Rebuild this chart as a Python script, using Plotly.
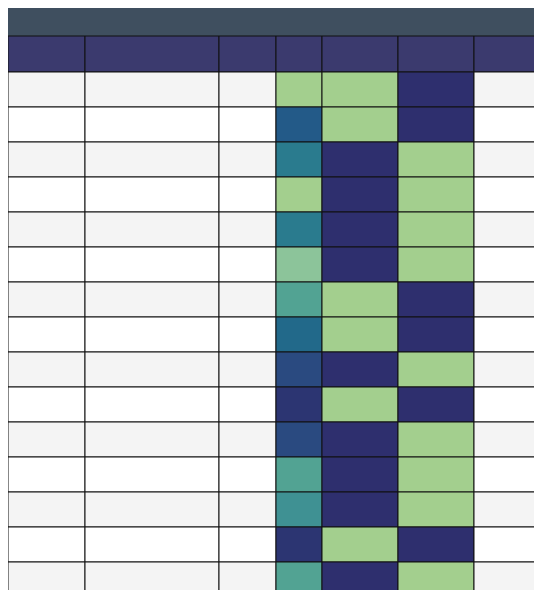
import plotly.graph_objects as go

issues = ["26100","26097","26094","26091","26088","26085","26082","26079","26076","26073","26070","26067","26064","26061","26058"]
numbers = ["02,06,11,15,31 07,08","03,10,12,20,25 01,09","05,14,15,17,33 01,07","03,04,07,12,32 01,02",
           "03,09,11,24,27 05,11","03,04,14,28,31 05,07","16,26,27,28,34 02,06","06,08,23,26,27 05,12",
           "15,20,27,28,35 02,11","04,10,22,23,33 02,12","04,05,15,21,32 02,11","06,16,18,19,28 07,11",
           "03,13,15,17,21 02,07","10,12,26,31,35 02,12","07,12,13,18,34 01,05"]
weekday = ["星期三"] * 15
span = [1, 8, 6, 1, 6, 2, 4, 7, 9, 10, 9, 4, 5, 10, 4]
primes = [1, 1, 2, 2, 2, 2, 1, 1, 2, 1, 2, 2, 2, 1, 2]
composites = [1, 1, 0, 0, 0, 0, 1, 1, 0, 1, 0, 0, 0, 1, 0]
ratio = [f"{p}:{c}" for p, c in zip(primes, composites)]
headers = ["开奖期号", "中奖号", "周次", "跨度", "质码个数", "合号数量", "质合比例"]
title = "后区近15期星期三 跨度，质合数据图示"

span_colors = {1: "#a3cf8e", 2: "#8cc49a", 4: "#52a393", 5: "#3f9193", 6: "#2a7b8e",
               7: "#22698a", 8: "#235a88", 9: "#2a4a80", 10: "#2c3572"}
GREEN, NAVY = "#a3cf8e", "#2e2f6e"
LIGHT_TXT, DARK_TXT = "#d8d8e8", "#222222"

W, H = 542, 590
col_w = [77, 134, 57, 46, 76, 76, 76]
edges = [0]
for w in col_w:
    edges.append(edges[-1] + w)
TITLE_H, HEAD_H, ROW_H = 28, 36, 35

row_bg = ["#f4f4f4" if i % 2 == 0 else "#ffffff" for i in range(15)]
fills = [row_bg, row_bg, row_bg,
         [span_colors[s] for s in span],
         [GREEN if p == 1 else NAVY for p in primes],
         [NAVY if c == 1 else GREEN for c in composites],
         row_bg]
tcols = [[DARK_TXT] * 15] * 3 + [
         [DARK_TXT if s <= 2 else LIGHT_TXT for s in span],
         [DARK_TXT if p == 1 else LIGHT_TXT for p in primes],
         [LIGHT_TXT if c == 1 else DARK_TXT for c in composites],
         [DARK_TXT] * 15]
columns = [issues, numbers, weekday, span, primes, composites, ratio]

fig = go.Figure()
shapes = [dict(type="rect", x0=0, x1=W, y0=0, y1=TITLE_H, fillcolor="#3f4f5f", line=dict(width=0))]
for c in range(7):
    shapes.append(dict(type="rect", x0=edges[c], x1=edges[c + 1], y0=TITLE_H, y1=TITLE_H + HEAD_H,
                       fillcolor="#3b3a6e", line=dict(color="#111", width=1)))
    for r in range(15):
        y0 = TITLE_H + HEAD_H + r * ROW_H
        shapes.append(dict(type="rect", x0=edges[c], x1=edges[c + 1], y0=y0, y1=y0 + ROW_H,
                           fillcolor=fills[c][r], line=dict(color="#111", width=1)))
fig.update_layout(shapes=shapes)

xc = [(edges[c] + edges[c + 1]) / 2 for c in range(7)]
fig.add_trace(go.Scatter(x=xc, y=[TITLE_H + HEAD_H / 2] * 7, mode="text",
                         text=[f"<b>{h}</b>" for h in headers],
                         textfont=dict(color="white", size=16, family="Noto Sans CJK SC"),
                         hoverinfo="skip"))
ys = [TITLE_H + HEAD_H + (r + 0.5) * ROW_H for r in range(15)]
for c in range(7):
    fam = "Noto Sans CJK SC" if c == 2 else "Liberation Serif"
    fig.add_trace(go.Scatter(x=[xc[c]] * 15, y=ys, mode="text", text=[str(v) for v in columns[c]],
                             textfont=dict(color=tcols[c], size=15, family=fam), hoverinfo="skip"))
fig.add_trace(go.Scatter(x=[W / 2], y=[TITLE_H / 2], mode="text", text=[f"<b>{title}</b>"],
                         textfont=dict(color="#f4f0dc", size=17, family="Noto Sans CJK SC"),
                         hoverinfo="skip"))

fig.update_xaxes(range=[0, W], visible=False, fixedrange=True)
fig.update_yaxes(range=[H, 0], visible=False, fixedrange=True)
fig.update_layout(width=W, height=H, margin=dict(l=0, r=0, t=0, b=0), showlegend=False,
                  paper_bgcolor="white", plot_bgcolor="white")
fig.write_html("out.html")
